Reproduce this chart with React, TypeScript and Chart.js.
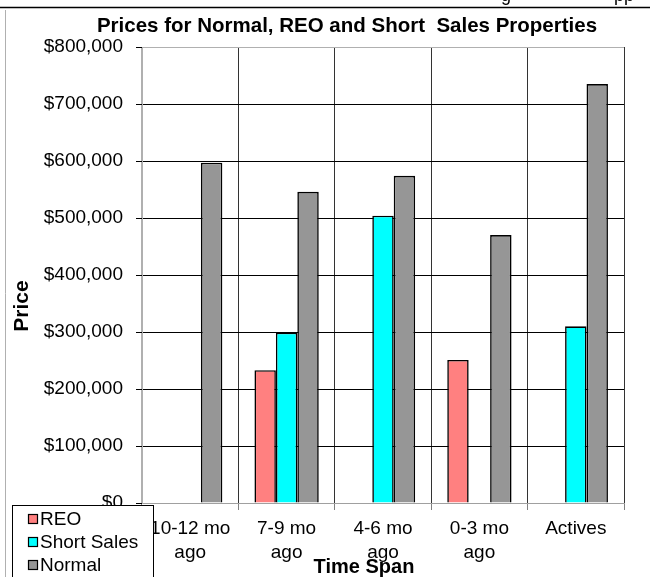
import React, { useEffect, useRef } from "react";
import { Chart, registerables } from "chart.js";

Chart.register(...registerables);

const categories: string[][] = [
  ["10-12 mo", "ago"],
  ["7-9 mo", "ago"],
  ["4-6 mo", "ago"],
  ["0-3 mo", "ago"],
  ["Actives"],
];
const reoValues: (number | null)[] = [null, 233000, null, 251000, null];
const shortSalesValues: (number | null)[] = [null, 299000, 504000, null, 310000];
const normalValues: (number | null)[] = [597000, 546000, 574000, 470000, 735000];
const seriesNames = ["REO", "Short Sales", "Normal"];
const seriesColors = ["#FF8080", "#00FFFF", "#969696"];
const chartTitle = "Prices for Normal, REO and Short  Sales Properties";
const xTitle = "Time Span";
const yTitle = "Price";
const yMin = 0;
const yMax = 800000;
const yStep = 100000;

const FONT = "'Liberation Sans', Arial, sans-serif";

const decorPlugin = {
  id: "decor",
  beforeDraw(chart: any) {
    const ctx = chart.ctx;
    ctx.save();
    ctx.fillStyle = "#fff";
    ctx.fillRect(0, 0, chart.width, chart.height);
    ctx.fillStyle = "#000";
    ctx.font = `18px ${FONT}`;
    ctx.textBaseline = "alphabetic";
    ctx.textAlign = "left";
    ctx.fillText("g", 501, 1);
    ctx.fillText("pp", 614, 1);
    ctx.strokeStyle = "#000";
    ctx.lineWidth = 1.5;
    ctx.beginPath();
    ctx.moveTo(0, 7.5);
    ctx.lineTo(650, 7.5);
    ctx.stroke();
    ctx.strokeStyle = "#b0b0b0";
    ctx.lineWidth = 1;
    ctx.beginPath();
    ctx.moveTo(5.5, 10);
    ctx.lineTo(5.5, 577);
    ctx.stroke();
    ctx.restore();
  },
  afterDraw(chart: any) {
    const ctx = chart.ctx;
    ctx.save();
    ctx.fillStyle = "#000";
    ctx.font = `bold 20.5px ${FONT}`;
    ctx.textAlign = "center";
    ctx.textBaseline = "middle";
    ctx.fillText(chartTitle, 347, 26);
    ctx.font = `bold 20px ${FONT}`;
    ctx.fillText(xTitle, 364, 567);
    ctx.save();
    ctx.translate(22, 306);
    ctx.rotate(-Math.PI / 2);
    ctx.font = `bold 21px ${FONT}`;
    ctx.fillText(yTitle, 0, 0);
    ctx.restore();
    // legend
    ctx.fillStyle = "#fff";
    ctx.fillRect(12.5, 505.5, 141, 80);
    ctx.strokeStyle = "#000";
    ctx.lineWidth = 1;
    ctx.strokeRect(12.5, 505.5, 141, 80);
    const ys = [519, 542, 565];
    chart.data.datasets.forEach((ds: any, i: number) => {
      const y = ys[i];
      ctx.fillStyle = ds.backgroundColor;
      ctx.fillRect(28.5, y - 4.5, 9, 9);
      ctx.strokeStyle = "#000";
      ctx.lineWidth = 1.2;
      ctx.strokeRect(28.5, y - 4.5, 9, 9);
      ctx.fillStyle = "#000";
      ctx.font = `19px ${FONT}`;
      ctx.textAlign = "left";
      ctx.textBaseline = "middle";
      ctx.fillText(ds.label, 40, y + 1);
    });
    ctx.restore();
  },
};

export default function App() {
  const ref = useRef<HTMLCanvasElement | null>(null);
  useEffect(() => {
    if (!ref.current) return;
    const chart = new Chart(ref.current, {
      type: "bar",
      data: {
        labels: categories,
        datasets: [reoValues, shortSalesValues, normalValues].map((d, i) => ({
          label: seriesNames[i],
          data: d,
          backgroundColor: seriesColors[i],
          borderColor: "#000",
          borderWidth: 1.6,
          categoryPercentage: 0.667,
          barPercentage: 1,
        })),
      },
      options: {
        responsive: false,
        animation: false,
        devicePixelRatio: 1,
        layout: { padding: { top: 47, right: 26, left: 0, bottom: 0 } },
        plugins: {
          legend: { display: false },
          title: { display: false },
          tooltip: { enabled: false },
        },
        scales: {
          x: {
            afterFit: (s: any) => {
              s.height = 74;
            },
            grid: {
              offset: true,
              color: (c: any) =>
                c.index === 0 || c.index === categories.length ? "#b0b0b0" : "#333",
              tickColor: "#808080",
              tickLength: 7,
              lineWidth: 1,
            },
            border: { color: "#a0a0a0", width: 1 },
            ticks: {
              color: "#000",
              font: { family: FONT, size: 19, lineHeight: 1.3 },
              padding: 6,
              maxRotation: 0,
              autoSkip: false,
            },
          },
          y: {
            min: yMin,
            max: yMax,
            afterFit: (s: any) => {
              s.width = 142;
            },
            grid: {
              color: (c: any) =>
                c.tick && (c.tick.value === yMax || c.tick.value === yMin) ? "#b0b0b0" : "#000",
              tickColor: "#000",
              tickLength: 6,
              lineWidth: 1,
            },
            border: { color: "#b0b0b0", width: 1 },
            ticks: {
              stepSize: yStep,
              color: "#000",
              padding: 13,
              font: { family: FONT, size: 19 },
              callback: (v: any) => "$" + Number(v).toLocaleString("en-US"),
            },
          },
        },
      },
      plugins: [decorPlugin],
    });
    return () => chart.destroy();
  }, []);
  return (
    <div style={{ position: "absolute", left: 0, top: 0, width: 650, height: 577 }}>
      <canvas ref={ref} width={650} height={577} />
    </div>
  );
}
